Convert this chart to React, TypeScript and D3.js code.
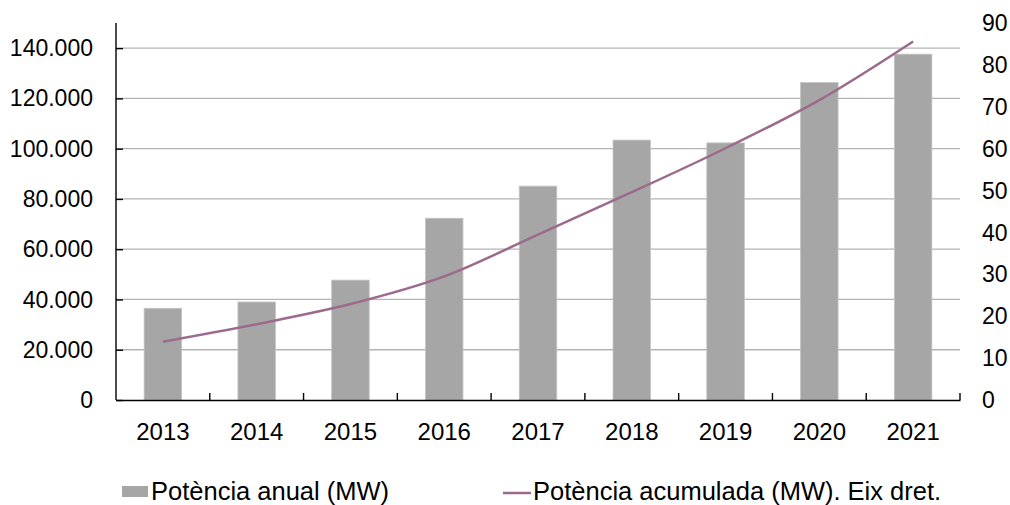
import { useRef, useEffect } from 'react';
import * as d3 from 'd3';

const years = ['2013', '2014', '2015', '2016', '2017', '2018', '2019', '2020', '2021'];
const annualMW = [36500, 39000, 47700, 72300, 85100, 103400, 102300, 126300, 137600];
const cumulativeMW = [13.9, 18.1, 22.9, 29.5, 39.5, 49.6, 60.1, 71.6, 85.6];
const leftTicks = [0, 20000, 40000, 60000, 80000, 100000, 120000, 140000];
const rightTicks = [0, 10, 20, 30, 40, 50, 60, 70, 80, 90];
const legendLabels = ['Potència anual (MW)', 'Potència acumulada (MW). Eix dret.'];

const BAR_COLOR = '#a6a6a6';
const LINE_COLOR = '#9b6a8c';
const GRID_COLOR = '#b4b4b4';
const FONT = '"Liberation Sans", Arial, sans-serif';

const App = () => {
    const svgRef = useRef<SVGSVGElement | null>(null);

    useEffect(() => {
        const svgElement = svgRef.current;
        if (!svgElement) return;

        const width = 1010;
        const height = 505;
        const margin = { top: 23, right: 50, bottom: 105, left: 116 };

        const svg = d3.select(svgElement);
        svg.selectAll('*').remove();

        const x = d3.scaleBand<string>()
            .domain(years)
            .range([margin.left, width - margin.right])
            .paddingInner(0.6)
            .paddingOuter(0.3);

        const yLeft = d3.scaleLinear()
            .domain([0, 150000])
            .range([height - margin.bottom, margin.top]);

        const yRight = d3.scaleLinear()
            .domain([0, 90])
            .range([height - margin.bottom, margin.top]);

        const fmt = (v: number) => d3.format(',')(v).replace(/,/g, '.');

        // gridlines
        svg.append('g')
            .selectAll('line')
            .data(leftTicks.filter(t => t > 0))
            .join('line')
            .attr('x1', margin.left)
            .attr('x2', width - margin.right)
            .attr('y1', d => yLeft(d))
            .attr('y2', d => yLeft(d))
            .attr('stroke', GRID_COLOR)
            .attr('stroke-width', 1.3);

        // bars
        svg.append('g')
            .selectAll('rect')
            .data(annualMW)
            .join('rect')
            .attr('x', (_, i) => x(years[i])!)
            .attr('width', x.bandwidth())
            .attr('y', d => yLeft(d))
            .attr('height', d => yLeft(0) - yLeft(d))
            .attr('fill', BAR_COLOR)
            .attr('stroke', '#c4c4c4')
            .attr('stroke-width', 0.8);

        // left axis
        const yAxis = svg.append('g')
            .attr('transform', `translate(${margin.left},0)`)
            .call(d3.axisLeft(yLeft).tickValues(leftTicks).tickSize(-7).tickPadding(30).tickFormat(d => fmt(d as number)));
        yAxis.select('.domain')
            .attr('d', `M0,${yLeft(150000)}V${yLeft(0)}`)
            .attr('stroke', '#000')
            .attr('stroke-width', 1.4);
        yAxis.selectAll('.tick line').attr('stroke', '#000').attr('stroke-width', 1.4);
        yAxis.selectAll('.tick text')
            .attr('x', -23)
            .attr('dy', '0.33em')
            .style('font-family', FONT)
            .style('font-size', '23px')
            .attr('fill', '#000');

        // bottom axis, ticks between categories
        const xAxis = svg.append('g')
            .attr('transform', `translate(0,${height - margin.bottom})`)
            .call(d3.axisBottom(x).tickSize(0).tickPadding(0));
        xAxis.select('.domain').attr('stroke', '#000').attr('stroke-width', 1.4);
        xAxis.selectAll('.tick text')
            .attr('y', 39.5)
            .attr('dy', 0)
            .style('font-family', FONT)
            .style('font-size', '24px')
            .attr('fill', '#000');
        const step = x.step();
        xAxis.append('g')
            .selectAll('line')
            .data(years)
            .join('line')
            .attr('x1', d => x(d)! + x.bandwidth() / 2 + step / 2)
            .attr('x2', d => x(d)! + x.bandwidth() / 2 + step / 2)
            .attr('y1', 0)
            .attr('y2', -7)
            .attr('stroke', '#000')
            .attr('stroke-width', 1.4);

        // right axis labels, no line
        const yAxisR = svg.append('g')
            .attr('transform', `translate(${width - margin.right},0)`)
            .call(d3.axisRight(yRight).tickValues(rightTicks).tickSize(0).tickPadding(22));
        yAxisR.select('.domain').remove();
        yAxisR.selectAll('.tick text')
            .attr('dy', '0.33em')
            .style('font-family', FONT)
            .style('font-size', '23px')
            .attr('fill', '#000');

        // cumulative line
        const line = d3.line<number>()
            .x((_, i) => x(years[i])! + x.bandwidth() / 2)
            .y(d => yRight(d))
            .curve(d3.curveCatmullRom.alpha(0.5));

        svg.append('path')
            .datum(cumulativeMW)
            .attr('fill', 'none')
            .attr('stroke', LINE_COLOR)
            .attr('stroke-width', 2.5)
            .attr('d', line);

        // legend
        const legend = svg.append('g');
        legend.append('rect')
            .attr('x', 122)
            .attr('y', 486)
            .attr('width', 26)
            .attr('height', 11)
            .attr('fill', BAR_COLOR);
        legend.append('text')
            .attr('x', 151)
            .attr('y', 500)
            .text(legendLabels[0])
            .style('font-family', FONT)
            .style('font-size', '25.5px')
            .attr('fill', '#000');
        legend.append('line')
            .attr('x1', 503)
            .attr('x2', 531)
            .attr('y1', 493)
            .attr('y2', 493)
            .attr('stroke', LINE_COLOR)
            .attr('stroke-width', 2.5);
        legend.append('text')
            .attr('x', 533)
            .attr('y', 500)
            .text(legendLabels[1])
            .style('font-family', FONT)
            .style('font-size', '25.5px')
            .attr('fill', '#000');
    }, []);

    return (
        <svg
            ref={svgRef}
            width={1010}
            height={505}
            style={{ position: 'absolute', left: 0, top: 0, background: '#fff' }}
        />
    );
};

export default App;
